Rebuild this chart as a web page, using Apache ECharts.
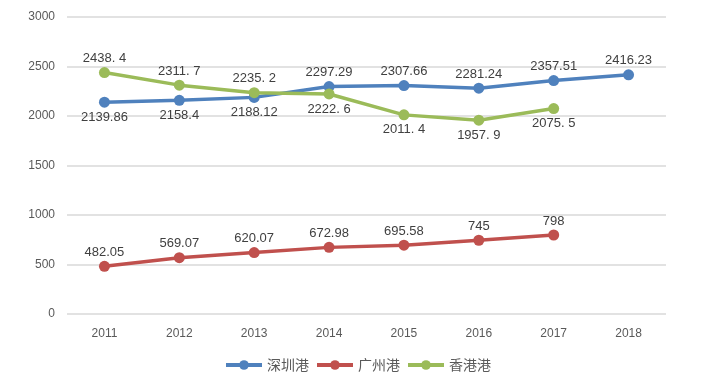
<!DOCTYPE html>
<html><head><meta charset="utf-8">
<script src="https://cdn.jsdelivr.net/npm/echarts@6/dist/echarts.min.js"></script>
<style>html,body{margin:0;padding:0;background:#fff}#c{width:715px;height:385px}</style>
</head><body><div id="c"></div>
<script>
const years = ['2011','2012','2013','2014','2015','2016','2017','2018'];
const shenzhen = [2139.86, 2158.4, 2188.12, 2297.29, 2307.66, 2281.24, 2357.51, 2416.23];
const guangzhou = [482.05, 569.07, 620.07, 672.98, 695.58, 745, 798, null];
const hongkong = [2438.4, 2311.7, 2235.2, 2222.6, 2011.4, 1957.9, 2075.5, null];
const hongkongText = ['2438. 4','2311. 7','2235. 2','2222. 6','2011. 4','1957. 9','2075. 5'];
const szPos = ['bottom','bottom','bottom','top','top','top','top','top'];
const hkPos = ['top','top','top','bottom','bottom','bottom','bottom'];

const chart = echarts.init(document.getElementById('c'));
const lbl = {show:true, color:'#404040', fontSize:13, fontFamily:'Liberation Sans, Arial, sans-serif', distance:2};
function mk(name, color, vals, pos, texts){
  return {
    name, type:'line', data: vals.map((v,i)=> v==null? null : ({
      value:v,
      label:Object.assign({}, lbl, {position: pos ? pos[i] : 'top', distance: (pos && pos[i]==='bottom') ? 3 : 2, formatter: texts ? texts[i] : String(v)})
    })),
    symbol:'circle', symbolSize:11, lineStyle:{width:3.5,color}, itemStyle:{color},
    label: lbl, emphasis:{disabled:true}
  };
}
chart.setOption({
  animation:false,
  grid:{left:67, right:49, top:17, bottom:71},
  legend:{bottom:8, left:'center', itemWidth:36, itemHeight:12, itemGap:6,
    lineStyle:{width:4},
    textStyle:{color:'#595959', fontSize:14, fontFamily:'Noto Sans CJK SC'},
    data:['深圳港','广州港','香港港']},
  xAxis:{type:'category', data:years, boundaryGap:true,
    axisLine:{show:false}, axisTick:{show:false},
    axisLabel:{color:'#595959', fontSize:12, margin:14, fontFamily:'Liberation Sans, Arial, sans-serif'}},
  yAxis:{type:'value', min:0, max:3000, interval:500,
    axisLine:{show:false}, axisTick:{show:false},
    axisLabel:{color:'#595959', fontSize:12, margin:12, formatter:v=>String(v), fontFamily:'Liberation Sans, Arial, sans-serif'},
    splitLine:{lineStyle:{color:'#d9d9d9', width:1.5}}},
  series:[
    mk('深圳港','#4f81bd', shenzhen, szPos, null),
    mk('广州港','#c0504d', guangzhou, null, null),
    mk('香港港','#9bbb59', hongkong, hkPos, hongkongText)
  ]
});
</script></body></html>
